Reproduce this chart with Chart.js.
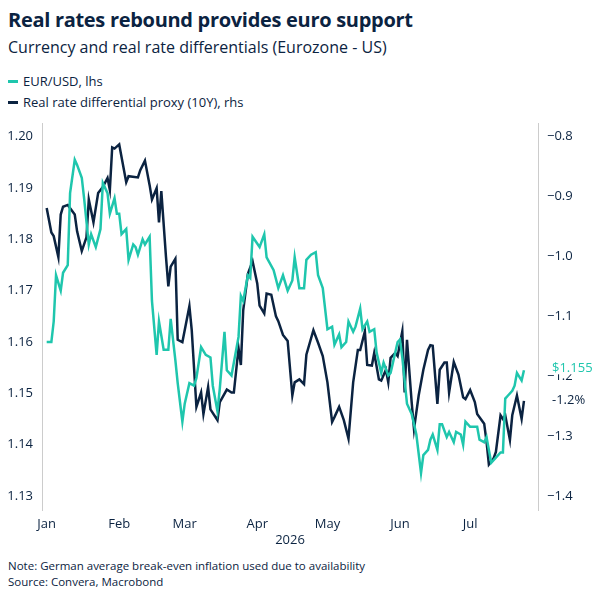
<!DOCTYPE html>
<html><head><meta charset="utf-8">
<script src="https://cdn.jsdelivr.net/npm/chart.js@4"></script>
<style>
body{margin:0;width:600px;height:600px;background:#fff;font-family:"Open Sans","Noto Sans",sans-serif;color:#0b2341;position:relative;overflow:hidden}
.t{position:absolute;left:8px;top:6px;font-size:20px;font-weight:700;letter-spacing:-0.3px}
.s{position:absolute;left:8px;top:36px;font-size:16px}
.lg{position:absolute;left:8px;font-size:13px;display:flex;align-items:center}
.lg i{display:inline-block;width:10px;height:3px;margin-right:5px}
.n{position:absolute;left:8px;font-size:11.5px}
#w{position:absolute;left:0;top:112px;width:600px;height:440px}
</style></head><body>
<div class="t">Real rates rebound provides euro support</div>
<div class="s">Currency and real rate differentials (Eurozone - US)</div>
<div class="lg" style="top:72px"><i style="background:#1fc6ad"></i>EUR/USD, lhs</div>
<div class="lg" style="top:93px"><i style="background:#0b2341"></i>Real rate differential proxy (10Y), rhs</div>
<div class="n" style="top:558px">Note: German average break-even inflation used due to availability</div>
<div class="n" style="top:574px">Source: Convera, Macrobond</div>
<div id="w"><canvas id="c"></canvas></div>
<script>
const monthDays=[0,31,59,90,120,151,181];
const monthLabels=["Jan","Feb","Mar","Apr","May","Jun","Jul"];
const leftTicks=[1.13,1.14,1.15,1.16,1.17,1.18,1.19,1.20];
const rightTicks=[-1.4,-1.3,-1.2,-1.1,-1.0,-0.9,-0.8];
const eurDays=[0,2,3,4,6,7,9,10,12,13,15,16,18,19,21,23,24,26,27,29,30,31,32,34,35,37,38,39,41,42,44,45,47,48,50,52,53,55,56,58,59,61,63,64,66,68,70,71,73,74,76,77,79,82,83,84,86,87,88,91,93,94,97,99,101,103,105,106,108,110,111,113,115,116,118,120,122,123,125,126,128,129,131,132,134,135,137,138,140,141,143,144,146,147,148,150,151,152,154,156,158,160,161,163,164,165,167,168,169,171,172,174,175,177,178,179,181,184,185,187,188,190,192,194,195,196,197,199,200,201,203,204];
const eurValues=[1.1600,1.1600,1.1640,1.1730,1.1700,1.1735,1.1750,1.1890,1.1955,1.1945,1.1920,1.1880,1.1790,1.1810,1.1785,1.1820,1.1910,1.1890,1.1850,1.1880,1.1850,1.1850,1.1810,1.1820,1.1760,1.1790,1.1785,1.1770,1.1800,1.1790,1.1805,1.1680,1.1575,1.1640,1.1585,1.1585,1.1645,1.1565,1.1520,1.1445,1.1480,1.1520,1.1515,1.1530,1.1590,1.1575,1.1570,1.1515,1.1465,1.1510,1.1620,1.1545,1.1535,1.1610,1.1690,1.1680,1.1730,1.1725,1.1805,1.1785,1.1810,1.1765,1.1740,1.1705,1.1730,1.1700,1.1720,1.1765,1.1705,1.1705,1.1760,1.1770,1.1775,1.1730,1.1705,1.1625,1.1630,1.1595,1.1615,1.1590,1.1600,1.1640,1.1620,1.1630,1.1665,1.1625,1.1640,1.1620,1.1625,1.1580,1.1540,1.1560,1.1535,1.1540,1.1560,1.1600,1.1605,1.1570,1.1480,1.1460,1.1420,1.1345,1.1380,1.1390,1.1410,1.1420,1.1390,1.1440,1.1440,1.1415,1.1425,1.1405,1.1425,1.1420,1.1400,1.1445,1.1435,1.1435,1.1410,1.1405,1.1415,1.1365,1.1375,1.1385,1.1385,1.1490,1.1495,1.1505,1.1515,1.1540,1.1525,1.1545];
const rateDays=[0,2,3,5,6,7,9,12,13,15,17,18,20,22,24,26,27,28,29,31,34,35,39,40,42,44,45,47,48,49,51,52,53,55,56,58,61,62,64,66,67,69,70,73,74,77,79,80,82,83,84,86,88,90,91,93,94,96,98,99,101,103,105,106,108,110,111,114,116,118,120,122,123,125,127,129,131,133,134,136,137,139,140,142,143,145,146,147,149,150,152,153,154,156,157,159,161,163,164,165,167,168,170,171,172,174,176,178,179,181,183,184,187,188,189,191,192,194,195,196,198,199,201,203,204];
const rateValues=[-0.919,-0.960,-0.966,-1.001,-0.930,-0.917,-0.914,-0.930,-0.958,-0.991,-0.968,-0.905,-0.943,-0.894,-0.884,-0.869,-0.889,-0.818,-0.820,-0.813,-0.876,-0.866,-0.868,-0.856,-0.840,-0.881,-0.905,-0.886,-0.943,-0.891,-1.001,-1.050,-1.017,-1.004,-1.139,-1.143,-1.083,-1.123,-1.251,-1.227,-1.263,-1.218,-1.255,-1.273,-1.243,-1.222,-1.227,-1.227,-1.153,-1.181,-1.090,-1.029,-1.008,-1.045,-1.082,-1.095,-1.062,-1.064,-1.100,-1.108,-1.131,-1.141,-1.232,-1.210,-1.205,-1.213,-1.164,-1.123,-1.144,-1.166,-1.210,-1.276,-1.268,-1.251,-1.273,-1.304,-1.210,-1.156,-1.156,-1.125,-1.181,-1.182,-1.161,-1.205,-1.207,-1.189,-1.210,-1.169,-1.161,-1.166,-1.125,-1.227,-1.139,-1.243,-1.288,-1.232,-1.189,-1.156,-1.148,-1.149,-1.246,-1.189,-1.177,-1.177,-1.227,-1.176,-1.197,-1.235,-1.238,-1.223,-1.243,-1.263,-1.279,-1.309,-1.347,-1.337,-1.326,-1.265,-1.271,-1.265,-1.306,-1.265,-1.232,-1.271,-1.241];
const NAVY="#0b2341",TEAL="#1fc6ad";
const eurPts=eurDays.map((d,i)=>({x:d,y:eurValues[i]}));
const ratePts=rateDays.map((d,i)=>({x:d,y:rateValues[i]}));
const endLabels={id:"endLabels",afterDraw(ch){
 const c=ch.ctx,yl=ch.scales.yL,yr=ch.scales.yR,x=ch.chartArea.right+8;
 c.save();c.font="13px 'Open Sans'";c.textBaseline="middle";
 let y1=yl.getPixelForValue(eurValues[eurValues.length-1])-2;
 c.fillStyle="#fff";c.fillRect(x+4,y1-8,56,14);
 c.fillStyle=TEAL;c.fillText("$1.155",x+6,y1);
 let y2=yr.getPixelForValue(-1.24);
 c.fillStyle=NAVY;c.fillText("-1.2%",x+6,y2);
 c.restore();}};
const tickFont={family:"Open Sans",size:13};
new Chart(document.getElementById("c"),{type:"line",
data:{datasets:[
 {data:eurPts,yAxisID:"yL",borderColor:TEAL,borderWidth:2.5,pointRadius:0,tension:0},
 {data:ratePts,yAxisID:"yR",borderColor:NAVY,borderWidth:2.5,pointRadius:0,tension:0}]},
options:{responsive:true,maintainAspectRatio:false,animation:false,
 layout:{padding:{top:6,left:0,right:0,bottom:0}},
 plugins:{legend:{display:false},tooltip:{enabled:false}},
 scales:{
  x:{type:"linear",min:-2,max:210,
   afterBuildTicks:s=>{s.ticks=monthDays.map(v=>({value:v}))},
   ticks:{callback:(v,i)=>monthLabels[i],color:NAVY,font:tickFont,maxRotation:0,autoSkip:false,padding:2},
   grid:{display:false,drawTicks:true,tickLength:4},border:{display:false},
   title:{display:true,text:"2026",color:NAVY,font:tickFont,padding:{top:0}},
   afterFit:s=>{s.height=42}},
  yL:{position:"left",min:1.1273,max:1.2025,
   afterBuildTicks:s=>{s.ticks=leftTicks.map(v=>({value:v}))},
   ticks:{callback:v=>v.toFixed(2),color:NAVY,font:tickFont,padding:4},
   grid:{display:false,drawTicks:true,tickLength:5,color:"#aaa"},border:{display:true,color:"#ccc"},
   afterFit:s=>{s.width=42}},
  yR:{position:"right",min:-1.423,max:-0.7786,
   afterBuildTicks:s=>{s.ticks=rightTicks.map(v=>({value:v}))},
   ticks:{callback:v=>"\u2212"+Math.abs(v).toFixed(1),color:NAVY,font:tickFont,padding:4},
   grid:{display:false,drawTicks:true,tickLength:5,color:"#aaa"},border:{display:true,color:"#ccc"},
   afterFit:s=>{s.width=62}}
 }},plugins:[endLabels]});
</script></body></html>
